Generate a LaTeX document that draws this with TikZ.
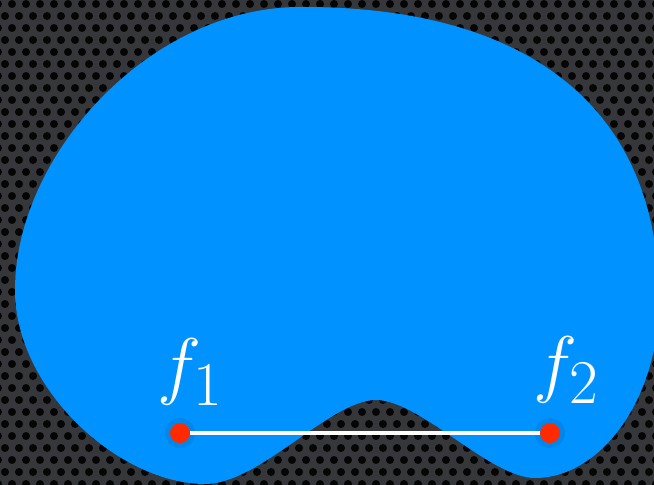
\documentclass[tikz,border=0pt]{standalone}
\usepackage{xcolor}
\definecolor{plate}{HTML}{35373B}
\definecolor{hole}{HTML}{050505}
\definecolor{blob}{HTML}{0093FF}
\definecolor{dotred}{HTML}{FF2A00}
\tikzset{
  focus/.style={circle, fill=dotred, inner sep=0pt, minimum size=20pt},
  halo/.style={circle, fill=black, fill opacity=0.08, inner sep=0pt},
  seg/.style={white, line width=4pt},
  lab/.style={text=white, font=\Huge, inner sep=0pt, scale=3.0, transform shape}
}
\begin{document}
\begin{tikzpicture}[x=1pt,y=-1pt]
\useasboundingbox (0,0) rectangle (654,485);
% perforated background
\fill[plate] (0,0) rectangle (654,485);
\begin{scope}
\clip (0,0) rectangle (654,485);
\foreach \r in {0,...,41}{
  \pgfmathsetmacro{\off}{mod(\r,2)*7}
  \foreach \c in {0,...,47}{
    \fill[hole] (\c*14+\off-2, \r*12+4) circle (4);
  }
}
\end{scope}
% blob
\coordinate (L)  at (15,290);
\coordinate (T)  at (300,7);
\coordinate (R)  at (659,300);
\coordinate (BR) at (535,478);
\coordinate (D)  at (376,400);
\coordinate (BL) at (205,484);
\fill[blob] (L) .. controls (15,155) and (150,7) .. (T)
  .. controls (525,6) and (659,105) .. (R)
  .. controls (659,400) and (600,478) .. (BR)
  .. controls (490,478) and (420,400) .. (D)
  .. controls (330,400) and (260,484) .. (BL)
  .. controls (120,484) and (15,390) .. (L) -- cycle;
% foci and segment
\node[halo, minimum size=30pt] (h1) at (180,433) {};
\node[halo, minimum size=30pt] (h2) at (550,433) {};
\node[focus] (p1) at (180,433) {};
\node[focus] (p2) at (550,433) {};
\draw[seg] (p1) -- (p2);
\node[lab, anchor=south] (l1) at (191,406) {$f_1$};
\node[lab, anchor=south] (l2) at (567,404) {$f_2$};
\end{tikzpicture}
\end{document}
